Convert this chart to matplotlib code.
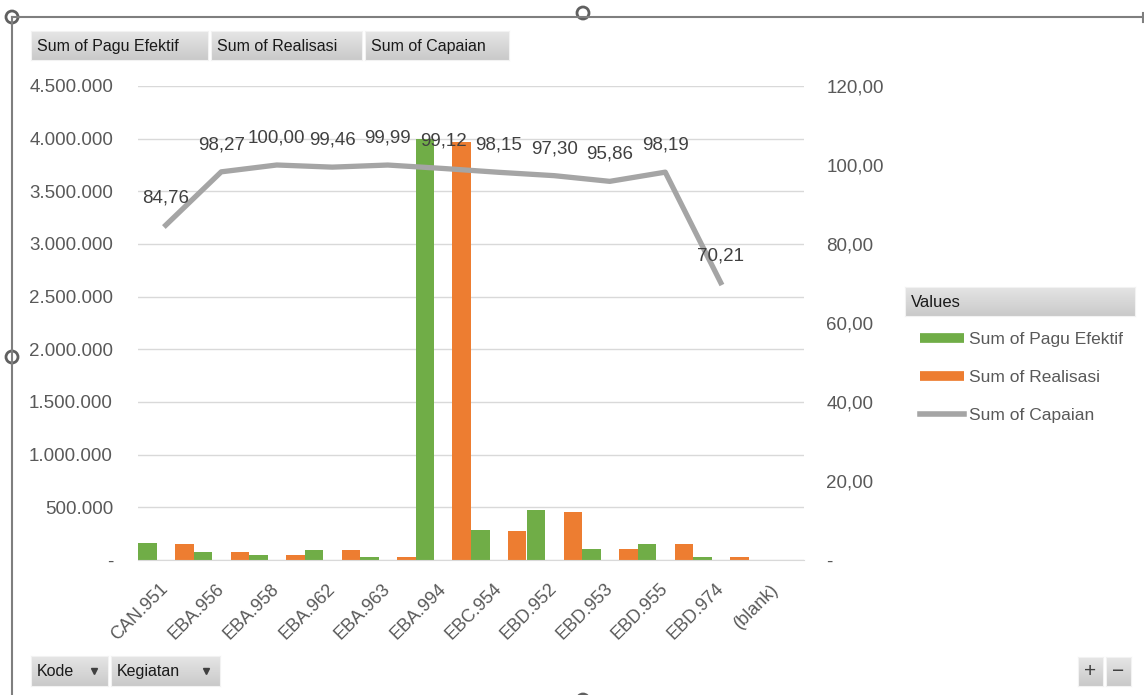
import numpy as np
import matplotlib
matplotlib.use("Agg")
import matplotlib.pyplot as plt
from matplotlib.lines import Line2D
from matplotlib.patches import Circle

plt.rcParams['font.family'] = ['Liberation Sans', 'DejaVu Sans']

# data
kode = ['CAN.951', 'EBA.956', 'EBA.958', 'EBA.962', 'EBA.963', 'EBA.994',
        'EBC.954', 'EBD.952', 'EBD.953', 'EBD.955', 'EBD.974', '(blank)']
pagu = [159000, 79000, 50000, 92000, 26000, 4000000,
        282000, 472000, 104000, 149000, 26000, 0]
realisasi = [149000, 79000, 50000, 92000, 26000, 3964800,
             277000, 459000, 100000, 149000, 26000, 0]
capaian = [84.76, 98.27, 100.00, 99.46, 99.99, 99.12,
           98.15, 97.30, 95.86, 98.19, 70.21]

GREEN = '#70ad47'
ORANGE = '#ed7d31'
GREY = '#a5a5a5'
TXT = '#595959'

W, H = 1144, 695
fig = plt.figure(figsize=(W / 100, H / 100), dpi=100)


def fx(x):
    return x / W


def fy(y):
    return 1 - y / H


def button(x0, y0, x1, y1, label, arrow=False, size=11.5, ha='left'):
    # little grey excel style field button with a vertical gradient
    bax = fig.add_axes([fx(x0), fy(y1), fx(x1 - x0), (y1 - y0) / H])
    grad = np.linspace(0, 1, 50).reshape(-1, 1)
    bax.imshow(grad, aspect='auto', cmap=plt.cm.colors.LinearSegmentedColormap.from_list(
        'b', ['#e6e6e6', '#c9c9c9']), extent=[0, 1, 0, 1], origin='upper')
    bax.set_xlim(0, 1)
    bax.set_ylim(0, 1)
    bax.set_xticks([])
    bax.set_yticks([])
    for s in bax.spines.values():
        s.set_color('#f2f2f2')
    if ha == 'center':
        bax.text(0.5, 0.5, label, ha='center', va='center', fontsize=size, color='#404040')
    else:
        bax.text(6 / (x1 - x0), 0.47, label, ha='left', va='center', fontsize=size, color='#1a1a1a')
    if arrow:
        bax.plot([(x1 - x0 - 14) / (x1 - x0)], [0.5], marker='v', ms=4, color='#404040')


ax = fig.add_axes([fx(138), fy(560), fx(804 - 138), (560 - 86) / H])
x = np.arange(len(kode))
bw = 1 / 3
ax.bar(x - bw, pagu, width=bw, color=GREEN, label='Sum of Pagu Efektif')
ax.bar(x + bw, realisasi, width=bw, color=ORANGE, label='Sum of Realisasi')
ax.set_xlim(-0.5, len(kode) - 0.5)
ax.set_ylim(0, 4500000)
yt = np.arange(0, 4500001, 500000)
ax.set_yticks(yt)
ax.set_yticklabels(['-' if v == 0 else f"{v:,.0f}".replace(',', '.') for v in yt])
ax.grid(axis='y', color='#d9d9d9', lw=1)
ax.set_axisbelow(True)
ax.set_xticks(x)
ax.set_xticklabels(kode, rotation=45, ha='right', va='center', rotation_mode='anchor')
ax.tick_params(axis='x', length=0, pad=19, labelsize=13, labelcolor=TXT)
ax.tick_params(axis='y', length=0, pad=18, labelsize=13.5, labelcolor=TXT)
for s in ['top', 'left', 'right']:
    ax.spines[s].set_visible(False)
ax.spines['bottom'].set_color('#d9d9d9')

ax2 = ax.twinx()
ax2.plot(np.arange(len(capaian)), capaian, color=GREY, lw=3.8, solid_joinstyle='round')
ax2.set_ylim(0, 120)
rt = np.arange(0, 121, 20)
ax2.set_yticks(rt)
ax2.set_yticklabels(['-' if v == 0 else f"{v:.2f}".replace('.', ',') for v in rt])
ax2.tick_params(axis='y', length=0, pad=16, labelsize=13.5, labelcolor=TXT)
for s in ax2.spines.values():
    s.set_visible(False)
for i, v in enumerate(capaian):
    ax2.annotate(f"{v:.2f}".replace('.', ','), (i, v), xytext=(0, 27),
                 textcoords='offset pixels', ha='center', va='center',
                 fontsize=13.5, color='#404040')

# legend
button(905, 287, 1135, 316, 'Values', size=12)
handles = [Line2D([], [], color=GREEN, lw=7, solid_capstyle='butt'),
           Line2D([], [], color=ORANGE, lw=7, solid_capstyle='butt'),
           Line2D([], [], color=GREY, lw=4)]
fig.legend(handles, ['Sum of Pagu Efektif', 'Sum of Realisasi', 'Sum of Capaian'],
           loc='upper left', bbox_to_anchor=(fx(908), fy(320)), frameon=False,
           fontsize=12.5, labelcolor=TXT, handlelength=2.5, handletextpad=0.3,
           labelspacing=1.3, borderpad=0.2)

# pivot field buttons
button(31, 31, 208, 60, 'Sum of Pagu Efektif')
button(211, 31, 362, 60, 'Sum of Realisasi')
button(365, 31, 509, 60, 'Sum of Capaian')
button(31, 656, 108, 686, 'Kode', arrow=True)
button(111, 656, 220, 686, 'Kegiatan', arrow=True)
button(1078, 657, 1103, 686, '+', size=15, ha='center')
button(1106, 657, 1131, 686, '\u2212', size=15, ha='center')

# chart frame with resize handles
fig.add_artist(Line2D([fx(12), fx(1143)], [fy(17), fy(17)], color='#7f7f7f', lw=1.5))
fig.add_artist(Line2D([fx(12), fx(12)], [fy(17), fy(695)], color='#7f7f7f', lw=1.5))
fig.add_artist(Line2D([fx(1143), fx(1143)], [fy(13), fy(22)], color='#7f7f7f', lw=1.5))
for hx, hy in [(12, 17), (583, 13), (12, 357), (583, 700)]:
    fig.add_artist(Circle((hx, H - hy), 6, transform=None, facecolor='white',
                          edgecolor='#606060', lw=2))

fig.savefig('out.png', dpi=100)
